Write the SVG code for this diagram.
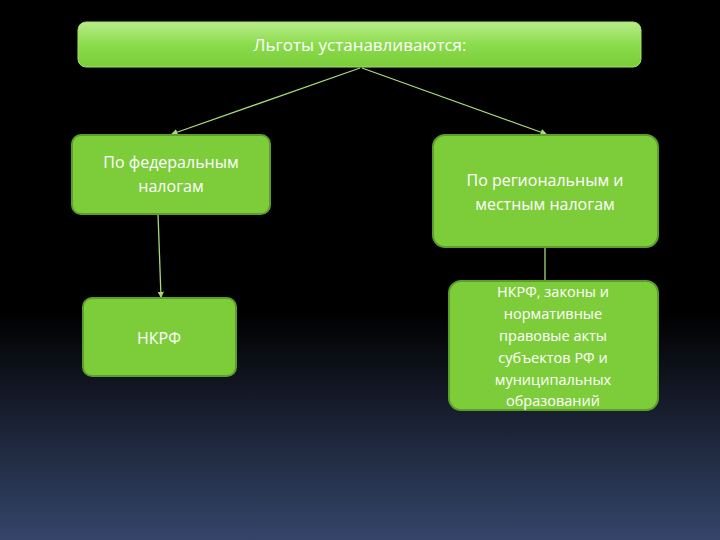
<svg xmlns="http://www.w3.org/2000/svg" width="720" height="540" viewBox="0 0 720 540">
<defs>
<linearGradient id="bg" x1="0" y1="0" x2="0" y2="1">
<stop offset="0" stop-color="#000"/><stop offset="0.58" stop-color="#000"/><stop offset="1" stop-color="#35456a"/>
</linearGradient>
<linearGradient id="top" x1="0" y1="0" x2="0" y2="1">
<stop offset="0" stop-color="#b8ec8a"/><stop offset="0.5" stop-color="#8bdc4c"/><stop offset="1" stop-color="#7acc3a"/>
</linearGradient>
<marker id="ar" viewBox="0 0 6 6" refX="5" refY="3" markerWidth="5" markerHeight="5" orient="auto"><path d="M0,0L6,3L0,6z" fill="#a8d878"/></marker>
<style>
.box{fill:#7dcd3a;stroke:#5c9e2a;stroke-width:2}
.t{font-family:"Open Sans","Liberation Sans",sans-serif;fill:#fff;text-anchor:middle;font-size:16px}
.s{font-size:14.5px}
.h{font-size:17px}
.c{stroke:#a8d878;stroke-width:1.3;fill:none}
</style>
</defs>
<rect width="720" height="540" fill="url(#bg)"/>
<g id="connectors">
<line class="c" x1="360" y1="68" x2="172" y2="134" marker-end="url(#ar)"/>
<line class="c" x1="362" y1="68" x2="546" y2="134" marker-end="url(#ar)"/>
<line class="c" x1="158" y1="214" x2="161" y2="297" marker-end="url(#ar)"/>
<line class="c" x1="545" y1="248" x2="545" y2="281"/>
</g>
<g id="n0"><rect x="78" y="22" width="563" height="45" rx="8" fill="url(#top)" stroke="#a0e070"/>
<text class="t h" x="360" y="51">Льготы устанавливаются:</text></g>
<g id="n1"><rect class="box" x="72" y="135" width="198" height="79" rx="9"/>
<text class="t" x="171" y="168">По федеральным</text><text class="t" x="171" y="192">налогам</text></g>
<g id="n2"><rect class="box" x="433" y="135" width="225" height="112" rx="12"/>
<text class="t" x="545" y="186">По региональным и</text><text class="t" x="545" y="210">местным налогам</text></g>
<g id="n3"><rect class="box" x="83" y="298" width="153" height="78" rx="9"/>
<text class="t" x="159" y="344">НКРФ</text></g>
<g id="n4"><rect class="box" x="449" y="281" width="209" height="129" rx="12"/>
<text class="t s" x="553" y="297">НКРФ, законы и</text>
<text class="t s" x="553" y="319">нормативные</text>
<text class="t s" x="553" y="341">правовые акты</text>
<text class="t s" x="553" y="363">субъектов  РФ и</text>
<text class="t s" x="553" y="385">муниципальных</text>
<text class="t s" x="553" y="406">образований</text></g>
</svg>
